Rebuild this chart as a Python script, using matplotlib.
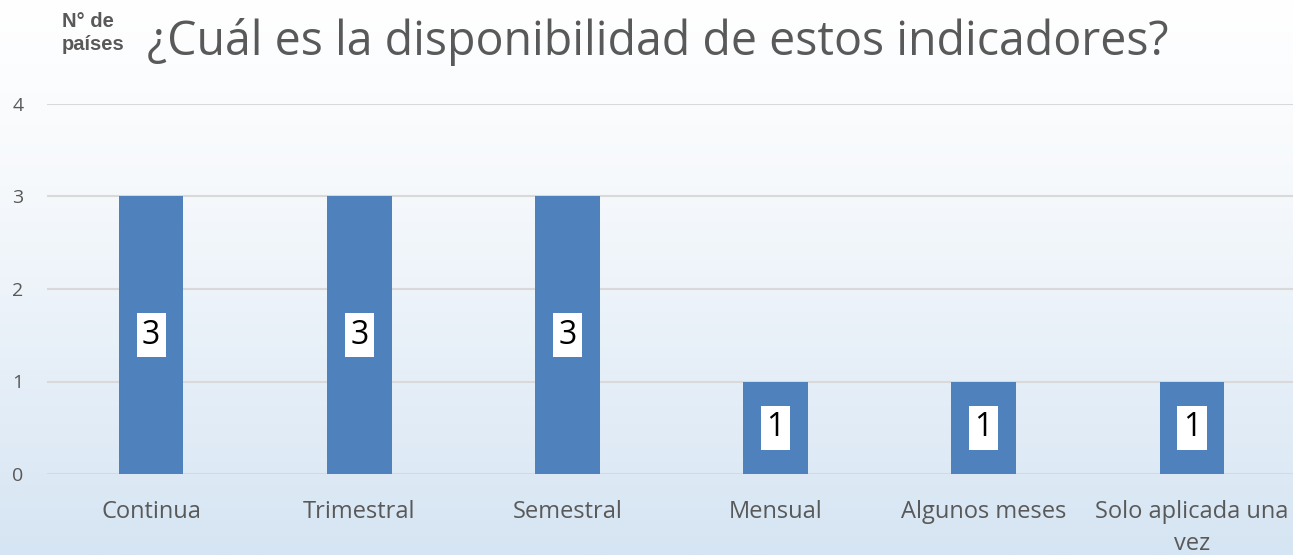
import matplotlib
matplotlib.use("Agg")
import matplotlib.pyplot as plt
import numpy as np
from matplotlib.colors import LinearSegmentedColormap

categories = ["Continua", "Trimestral", "Semestral", "Mensual", "Algunos meses", "Solo aplicada una\nvez"]
values = [3, 3, 3, 1, 1, 1]
yticks = [0, 1, 2, 3, 4]
title = "¿Cuál es la disponibilidad de estos indicadores?"
ylabel = "N° de\npaíses"

W, H = 1293, 555
fig = plt.figure(figsize=(W / 100, H / 100), dpi=100)

# background gradient
bg = fig.add_axes([0, 0, 1, 1], zorder=-10)
grad = np.linspace(0, 1, 256).reshape(-1, 1)
cmap = LinearSegmentedColormap.from_list("bg", ["#ffffff", "#f6f9fc", "#e6eff8", "#d6e5f3"])
bg.imshow(grad, aspect="auto", cmap=cmap, extent=[0, 1, 0, 1], origin="upper")
bg.set_axis_off()

left = 47 / W
right = 1296 / W
bottom = (H - 474) / H
top = (H - 104) / H
ax = fig.add_axes([left, bottom, right - left, top - bottom])
ax.patch.set_alpha(0)

x = np.arange(len(categories))
ax.bar(x, values, width=0.31, color="#4F81BD", zorder=3)
ax.set_xlim(-0.5, len(categories) - 0.5)
ax.set_ylim(0, 4)
ax.set_yticks(yticks)
ax.yaxis.grid(True, color="#d9d9d9", linewidth=1.5, zorder=0)
for s in ax.spines.values():
    s.set_visible(False)
ax.tick_params(axis="both", length=0)
ax.set_xticks(x)
ax.set_xticklabels(categories, fontfamily="Open Sans", fontsize=17, color="#595959", linespacing=1.4)
ax.tick_params(axis="x", pad=19)
for lbl in ax.get_yticklabels():
    lbl.set_fontfamily("Open Sans")
    lbl.set_fontsize(14)
    lbl.set_color("#595959")
    lbl.set_horizontalalignment("left")
ax.tick_params(axis="y", pad=25)

for xi, v in zip(x, values):
    ax.text(xi, v / 2, str(v), ha="center", va="center", fontsize=23, fontfamily="Open Sans",
            color="black", zorder=5,
            bbox=dict(boxstyle="square,pad=0.17", facecolor="white", edgecolor="none"))

fig.text(147 / W, 1 - 42 / H, title, fontfamily="Open Sans", fontsize=33.5, color="#595959",
         ha="left", va="center")
fig.text(62 / W, 1 - 33 / H, ylabel, fontfamily="Liberation Sans", fontweight="bold",
         fontsize=14.5, color="#595959", ha="left", va="center", linespacing=1.25)

fig.savefig("out.png", dpi=100)
